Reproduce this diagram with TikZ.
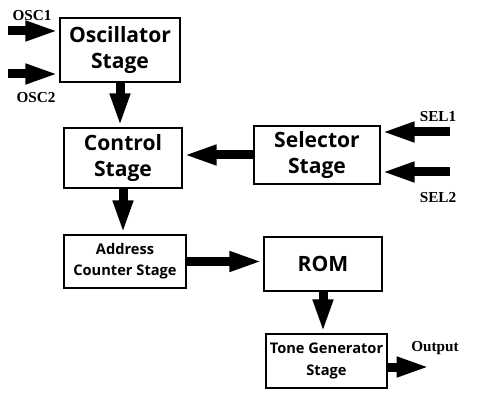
\documentclass[tikz,border=0pt]{standalone}
\usepackage{fontspec}
\setsansfont{Open Sans}
\newfontfamily\labelfont{Liberation Serif}
\usepackage{tikz}
\usetikzlibrary{arrows.meta,positioning}

\begin{document}
\begin{tikzpicture}[x=0.03cm,y=-0.03cm,
  stagebox/.style={draw, line width=0.075cm, align=center, inner sep=0pt,
    font=\sffamily\bfseries\fontsize{18}{23}\selectfont},
  smallbox/.style={stagebox, font=\sffamily\bfseries\fontsize{12.5}{18}\selectfont},
  bigarrow/.style={line width=0.27cm, -{Triangle[length=1.0cm,width=0.55cm]}},
  sig/.style={font=\labelfont\bfseries\fontsize{13}{15}\selectfont}]

\useasboundingbox (0,0) rectangle (477,401);

% stages
\node[stagebox, minimum width=3.6cm, minimum height=1.92cm] (osc) at (120,50) {Oscillator\\Stage};
\node[stagebox, minimum width=3.54cm, minimum height=1.8cm] (ctrl) at (123,158) {Control\\Stage};
\node[stagebox, minimum width=3.78cm, minimum height=1.74cm] (sel) at (317,155) {Selector\\Stage};
\node[smallbox, minimum width=3.66cm, minimum height=1.59cm] (addr) at (125,261.5) {Address\\Counter Stage};
\node[stagebox, minimum width=3.54cm, minimum height=1.62cm] (rom) at (323,264) {ROM};
\node[smallbox, minimum width=3.63cm, minimum height=1.62cm] (tone) at (326.5,361) {Tone Generator\\Stage};

% free ends
\coordinate (osc1) at (8,31);
\coordinate (osc2) at (8,74);
\coordinate (sel1) at (450,132);
\coordinate (sel2) at (450,172);
\coordinate (out) at (430,367);

% connectors
\draw[bigarrow] (osc1) -- (osc1 -| osc.west);
\draw[bigarrow] (osc2) -- (osc2 -| osc.west);
\draw[bigarrow] (osc.south) -- (osc.south |- ctrl.north);
\draw[bigarrow] (sel.west) -- (sel.west -| ctrl.east);
\draw[bigarrow] (sel1) -- (sel1 -| sel.east);
\draw[bigarrow] (sel2) -- (sel2 -| sel.east);
\draw[bigarrow] (ctrl.south) -- (ctrl.south |- addr.north);
\draw[bigarrow] (addr.east) -- (addr.east -| rom.west);
\draw[bigarrow] (rom.south) -- (rom.south |- tone.north);
\draw[bigarrow] (out -| tone.east) -- (out);

% labels
\node[sig] (osc1lbl) at (32,16) {OSC1};
\node[sig] (osc2lbl) at (36,98) {OSC2};
\node[sig] (sel1lbl) at (438,117) {SEL1};
\node[sig] (sel2lbl) at (438,198) {SEL2};
\node[sig] (outlbl) at (435,348) {Output};

\end{tikzpicture}
\end{document}
